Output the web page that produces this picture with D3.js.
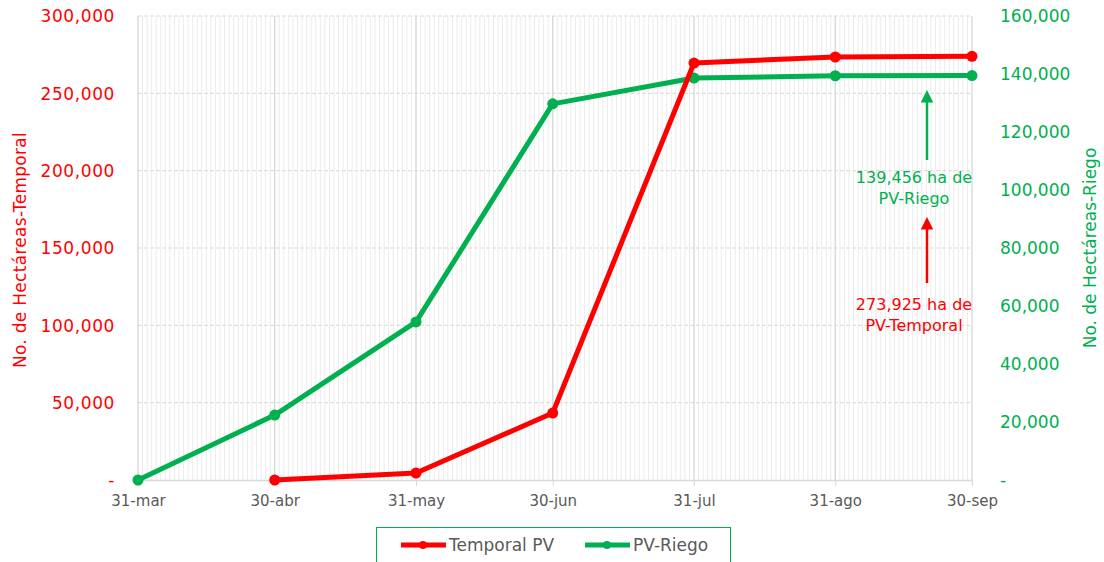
<!DOCTYPE html>
<html>
<head>
<meta charset="utf-8">
<script src="https://d3js.org/d3.v7.min.js"></script>
<style>
  body { margin: 0; background: #fff; }
  svg text { font-family: "DejaVu Sans", sans-serif; }
</style>
</head>
<body>
<svg id="chart" width="1104" height="562"></svg>
<script>
// data
var dates = ["2021-03-31", "2021-04-30", "2021-05-31", "2021-06-30", "2021-07-31", "2021-08-31", "2021-09-30"];
var tickLabels = ["31-mar", "30-abr", "31-may", "30-jun", "31-jul", "31-ago", "30-sep"];
var temporal = [null, 0, 4500, 43300, 269600, 273500, 273925];
var riego = [0, 22400, 54500, 129700, 138600, 139400, 139456];
var leftTicks = [0, 50000, 100000, 150000, 200000, 250000, 300000];
var rightTicks = [0, 20000, 40000, 60000, 80000, 100000, 120000, 140000, 160000];

var red = "#ff0000", green = "#00b050", gray = "#595959";
var parse = d3.timeParse("%Y-%m-%d");
var days = dates.map(parse);

var svg = d3.select("#chart");
var m = {left: 138, right: 972, top: 16, bottom: 480};

var x = d3.scaleTime().domain([days[0], days[days.length - 1]]).range([m.left, m.right]);
var yL = d3.scaleLinear().domain([0, 300000]).range([m.bottom, m.top]);
var yR = d3.scaleLinear().domain([0, 160000]).range([m.bottom, m.top]);

var fmt = function(d) { return d === 0 ? "-" : d3.format(",")(d); };

// minor daily grid
var g = svg.append("g");
g.selectAll("line.minor")
  .data(d3.timeDay.range(days[0], days[days.length - 1]))
  .enter().append("line")
  .attr("x1", function(d) { return x(d); }).attr("x2", function(d) { return x(d); })
  .attr("y1", m.top).attr("y2", m.bottom)
  .attr("stroke", "#ececec").attr("stroke-width", 1);

// horizontal grid
g.selectAll("line.h")
  .data(leftTicks.slice(1))
  .enter().append("line")
  .attr("x1", m.left).attr("x2", m.right)
  .attr("y1", function(d) { return yL(d); }).attr("y2", function(d) { return yL(d); })
  .attr("stroke", "#d9d9d9").attr("stroke-dasharray", "4,2");

// major vertical grid
g.selectAll("line.major")
  .data(days)
  .enter().append("line")
  .attr("x1", function(d) { return x(d); }).attr("x2", function(d) { return x(d); })
  .attr("y1", m.top).attr("y2", m.bottom)
  .attr("stroke", "#d9d9d9").attr("stroke-width", 1.3);

// x axis
var xAxis = svg.append("g").attr("transform", "translate(0," + m.bottom + ")")
  .call(d3.axisBottom(x).tickValues(days).tickSize(6).tickPadding(9)
    .tickFormat(function(d, i) { return tickLabels[i]; }));
xAxis.select(".domain").attr("stroke", "#d9d9d9").attr("stroke-width", 1.3);
xAxis.selectAll(".tick line").attr("stroke", "#d9d9d9");
xAxis.selectAll("text").attr("fill", gray).attr("font-size", 15)
  .style("font-family", "DejaVu Sans, sans-serif");

// left axis
var lAxis = svg.append("g").attr("transform", "translate(" + (m.left - 20) + ",0)")
  .call(d3.axisLeft(yL).tickValues(leftTicks).tickSize(0).tickFormat(fmt));
lAxis.select(".domain").remove();
lAxis.selectAll("text").attr("fill", red).attr("font-size", 17).attr("dy", "0.35em")
  .attr("letter-spacing", 0.6)
  .style("font-family", "DejaVu Sans, sans-serif");

// right axis
var rAxis = svg.append("g").attr("transform", "translate(" + (m.right + 25) + ",0)")
  .call(d3.axisRight(yR).tickValues(rightTicks).tickSize(0).tickFormat(fmt));
rAxis.select(".domain").remove();
rAxis.selectAll("text").attr("fill", green).attr("font-size", 17).attr("dy", "0.35em")
  .style("font-family", "DejaVu Sans, sans-serif");

// axis titles
svg.append("text").attr("transform", "translate(26,250) rotate(-90)")
  .attr("text-anchor", "middle").attr("fill", red).attr("font-size", 17)
  .attr("letter-spacing", 0.3)
  .text("No. de Hectáreas-Temporal");
svg.append("text").attr("transform", "translate(1096,248) rotate(-90)")
  .attr("text-anchor", "middle").attr("fill", green).attr("font-size", 17)
  .text("No. de Hectáreas-Riego");

// lines
function draw(values, y, color) {
  var pts = values.map(function(v, i) { return {d: days[i], v: v}; })
    .filter(function(p) { return p.v !== null; });
  svg.append("path").datum(pts)
    .attr("fill", "none").attr("stroke", color).attr("stroke-width", 5)
    .attr("stroke-linejoin", "round")
    .attr("d", d3.line().x(function(p) { return x(p.d); }).y(function(p) { return y(p.v); }));
  svg.selectAll(null).data(pts).enter().append("circle")
    .attr("cx", function(p) { return x(p.d); }).attr("cy", function(p) { return y(p.v); })
    .attr("r", 5.5).attr("fill", color);
}
draw(riego, yR, green);
draw(temporal, yL, red);

// annotations
var defs = svg.append("defs");
[["ag", green], ["ar", red]].forEach(function(a) {
  defs.append("marker").attr("id", a[0]).attr("viewBox", "0 0 10 10")
    .attr("refX", 2).attr("refY", 5).attr("markerWidth", 5).attr("markerHeight", 5)
    .attr("orient", "auto")
    .append("path").attr("d", "M0,0 L10,5 L0,10 z").attr("fill", a[1]);
});
var ax = 927;
svg.append("line").attr("x1", ax).attr("x2", ax).attr("y1", 160).attr("y2", 100)
  .attr("stroke", green).attr("stroke-width", 2.5).attr("marker-end", "url(#ag)");
svg.append("line").attr("x1", ax).attr("x2", ax).attr("y1", 283).attr("y2", 227)
  .attr("stroke", red).attr("stroke-width", 2.5).attr("marker-end", "url(#ar)");

function note(lines, y0, color) {
  var t = svg.append("text").attr("text-anchor", "middle").attr("fill", color).attr("font-size", 16);
  lines.forEach(function(s, i) {
    t.append("tspan").attr("x", 914).attr("y", y0 + i * 21).text(s);
  });
}
note(["139,456 ha de", "PV-Riego"], 183, green);
note(["273,925 ha de", "PV-Temporal"], 310, red);

// legend
var lg = svg.append("g");
lg.append("rect").attr("x", 376.5).attr("y", 527.5).attr("width", 354).attr("height", 40)
  .attr("fill", "#fff").attr("stroke", green).attr("stroke-width", 1);
[[red, "Temporal PV", 401], [green, "PV-Riego", 585]].forEach(function(it) {
  lg.append("line").attr("x1", it[2]).attr("x2", it[2] + 45).attr("y1", 545).attr("y2", 545)
    .attr("stroke", it[0]).attr("stroke-width", 5);
  lg.append("circle").attr("cx", it[2] + 22).attr("cy", 545).attr("r", 4).attr("fill", it[0]);
  lg.append("text").attr("x", it[2] + 48).attr("y", 551).attr("fill", gray).attr("font-size", 17).text(it[1]);
});
</script>
</body>
</html>
